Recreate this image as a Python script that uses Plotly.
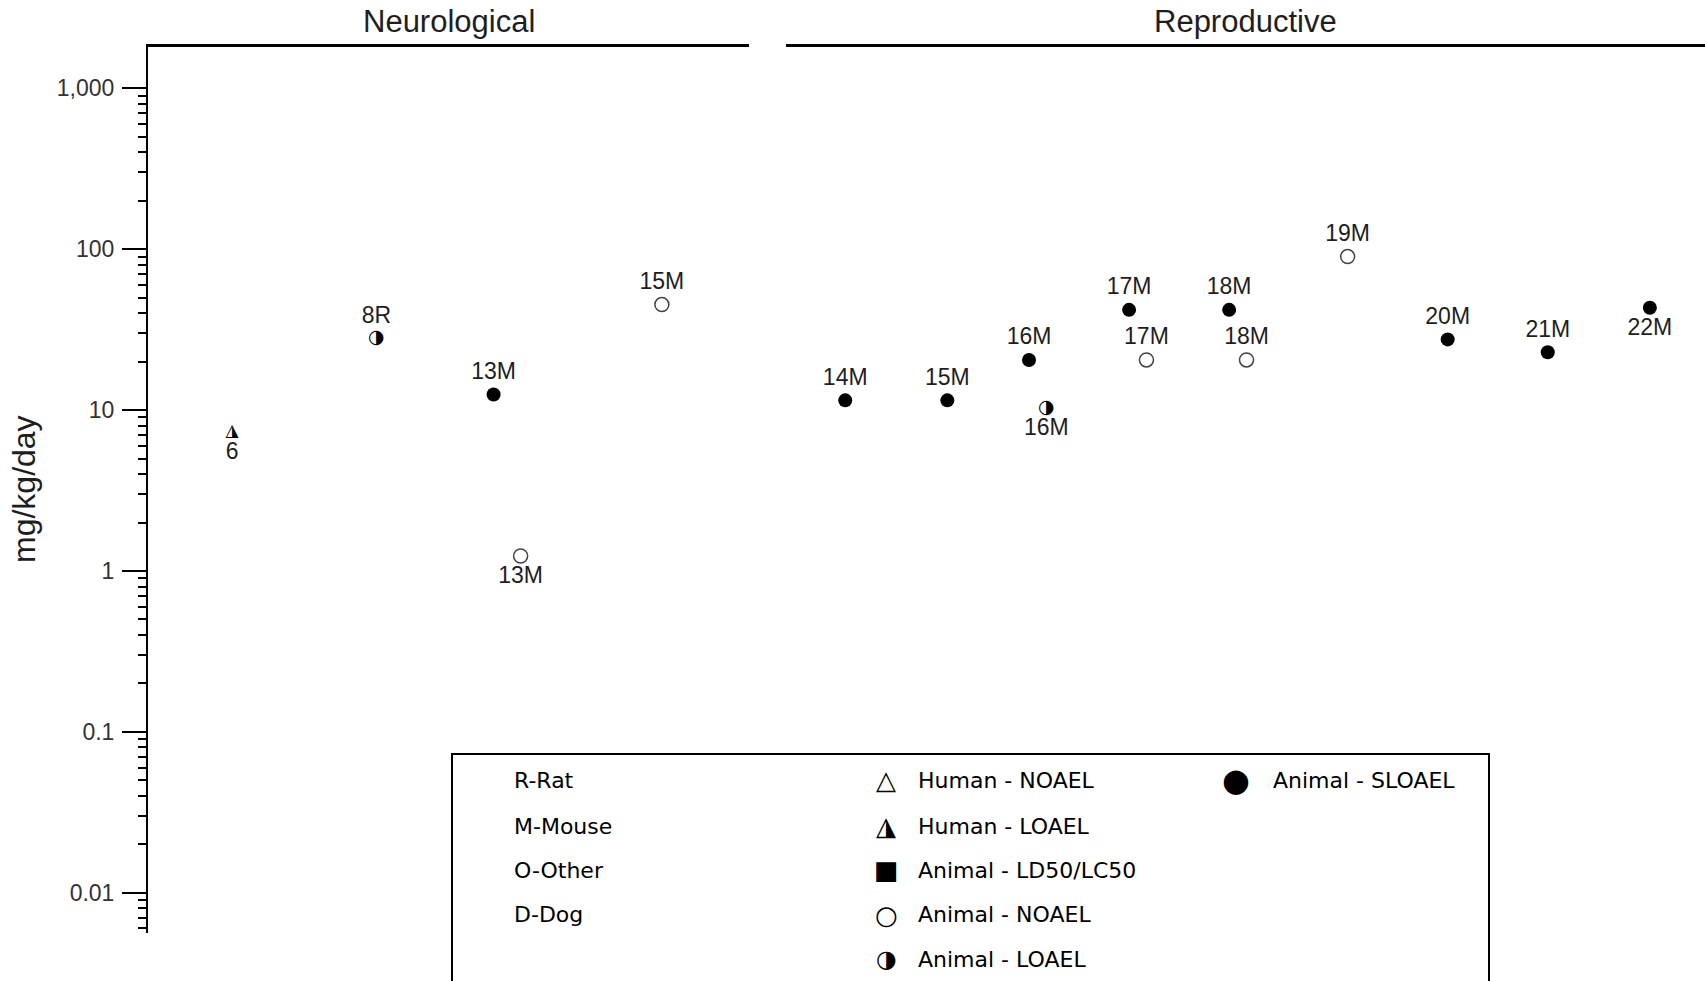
import plotly.graph_objects as go

# ---- data (mg/kg/day, log scale) ----
# x = column position inside each panel
neuro_x = [0.56, 1.52, 2.30, 2.48, 3.42]
neuro_dose = [7.3, 28.0, 12.5, 1.24, 45.3]
neuro_label = ["6", "8R", "13M", "13M", "15M"]
neuro_kind = ["human_loael", "animal_loael", "animal_sloael", "animal_noael", "animal_noael"]
neuro_side = ["below", "above", "above", "below", "above"]

repro_x = [0.58, 1.58, 2.38, 2.55, 3.36, 3.53, 4.34, 4.51, 5.50, 6.48, 7.46, 8.46]
repro_dose = [11.5, 11.5, 20.5, 10.3, 42.0, 20.5, 42.0, 20.5, 90.0, 27.5, 22.9, 43.3]
repro_label = ["14M", "15M", "16M", "16M", "17M", "17M", "18M", "18M", "19M", "20M", "21M", "22M"]
repro_kind = ["animal_sloael", "animal_sloael", "animal_sloael", "animal_loael",
              "animal_sloael", "animal_noael", "animal_sloael", "animal_noael",
              "animal_noael", "animal_sloael", "animal_sloael", "animal_sloael"]
repro_side = ["above", "above", "above", "below", "above", "above",
              "above", "above", "above", "above", "above", "below"]

panel_titles = ["Neurological", "Reproductive"]

y_tickvals = [0.01, 0.1, 1, 10, 100, 1000]
y_ticktext = ["0.01", "0.1", "1", "10", "100", "1,000"]
y_minorvals = [m * d for d in [0.001, 0.01, 0.1, 1, 10, 100, 1000] for m in range(2, 10)]

species_legend = ["R-Rat", "M-Mouse", "O-Other", "D-Dog"]
endpoint_symbols = ["\u25B3", "\u25EE", "\u25A0", "\u25CB", "\u25D1"]
endpoint_legend = ["Human - NOAEL", "Human - LOAEL", "Animal - LD50/LC50", "Animal - NOAEL", "Animal - LOAEL"]
severe_symbols = ["\u25CF"]
severe_legend = ["Animal - SLOAEL"]

TXT = "Liberation Sans, Arial, sans-serif"
LEG = "DejaVu Sans, sans-serif"

W, H = 1705, 981


def px(x):
    return x / W


def py(y):
    return 1 - y / H


fig = go.Figure()

# glyphs for the half-filled symbols (plotly has no half-filled markers)
glyphs = {"animal_loael": ("\u25D1", 19), "human_loael": ("\u25EE", 17)}


def add_points(xs, ys, labels, kinds, sides, xaxis, yaxis):
    for kind in ["animal_sloael", "animal_noael", "animal_loael", "human_loael"]:
        idx = [i for i, k in enumerate(kinds) if k == kind]
        if not idx:
            continue
        xx = [xs[i] for i in idx]
        yy = [ys[i] for i in idx]
        tx = [labels[i] for i in idx]
        tp = ["top center" if sides[i] == "above" else "bottom center" for i in idx]
        if kind == "animal_sloael":
            marker = dict(symbol="circle", size=14, color="black")
        elif kind == "animal_noael":
            marker = dict(symbol="circle-open", size=14, color="#444", line=dict(width=1.5))
        else:
            marker = dict(symbol="circle", size=14, color="rgba(0,0,0,0)")
        fig.add_trace(go.Scatter(
            x=xx, y=yy, mode="markers+text", text=tx, textposition=tp,
            textfont=dict(family=TXT, size=23, color="#1e1e1e"),
            marker=marker, xaxis=xaxis, yaxis=yaxis, hoverinfo="skip",
            showlegend=False, cliponaxis=False))
        if kind in glyphs:
            g, s = glyphs[kind]
            fig.add_trace(go.Scatter(
                x=xx, y=yy, mode="text", text=[g] * len(xx), textposition="middle center",
                textfont=dict(family=LEG, size=s, color="black"),
                xaxis=xaxis, yaxis=yaxis, hoverinfo="skip", showlegend=False, cliponaxis=False))


add_points(neuro_x, neuro_dose, neuro_label, neuro_kind, neuro_side, "x", "y")
add_points(repro_x, repro_dose, repro_label, repro_kind, repro_side, "x2", "y2")

ydom = [py(933), py(47.3)]
yrng = [-2.25, 3.255]
top_axis = dict(side="top", showline=True, linecolor="black", linewidth=2.5, ticks="",
                showticklabels=False, showgrid=False, zeroline=False, fixedrange=True)

fig.update_layout(
    width=W, height=H,
    margin=dict(l=0, r=0, t=0, b=0),
    plot_bgcolor="white", paper_bgcolor="white",
    showlegend=False,
    xaxis=dict(domain=[px(148), px(749)], range=[0, 4], anchor="y", **top_axis),
    xaxis2=dict(domain=[px(786), 1.0], range=[0, 9], anchor="y2", **top_axis),
    yaxis=dict(domain=ydom, type="log", range=yrng, anchor="x",
               showline=True, linecolor="black", linewidth=2,
               tickmode="array", tickvals=y_tickvals, ticktext=y_ticktext,
               ticks="outside", ticklen=24, tickwidth=2, tickcolor="black",
               ticklabelstandoff=3,
               tickfont=dict(family=TXT, size=23, color="#333"),
               minor=dict(tickmode="array", tickvals=y_minorvals, ticks="outside",
                          ticklen=8, tickwidth=2, tickcolor="black", showgrid=False),
               showgrid=False, zeroline=False),
    yaxis2=dict(domain=ydom, type="log", range=yrng, anchor="x2", matches="y",
                visible=False),
)

# panel titles
for i, t in enumerate(panel_titles):
    fig.add_annotation(text=t, xref="x domain" if i == 0 else "x2 domain", x=0.5,
                       yref="paper", y=py(22), yanchor="middle", showarrow=False,
                       font=dict(family=TXT, size=31, color="#1e1e1e"))

# y axis title
fig.add_annotation(text="mg/kg/day", textangle=-90, xref="paper", x=px(24),
                   yref="paper", y=py(489), xanchor="center", yanchor="middle", showarrow=False,
                   font=dict(family=TXT, size=32, color="#1e1e1e"))

# ---- legend box ----
fig.add_shape(type="rect", xref="paper", yref="paper",
              x0=px(452), x1=px(1489), y0=-0.1, y1=py(754),
              line=dict(color="black", width=2), fillcolor="white", layer="above")

row_y = [780, 826, 870, 914.5, 959]
leg_font = dict(family=LEG, size=22, color="black")
for r, name in enumerate(species_legend):
    fig.add_annotation(text=name, xref="paper", yref="paper", x=px(512), y=py(row_y[r]),
                       xanchor="left", yanchor="middle", showarrow=False, font=leg_font)
for r, (sym, name) in enumerate(zip(endpoint_symbols, endpoint_legend)):
    fig.add_annotation(text=sym, xref="paper", yref="paper", x=px(886), y=py(row_y[r]),
                       xanchor="center", yanchor="middle", showarrow=False,
                       font=dict(family=LEG, size=26 if r != 4 else 24, color="black"))
    fig.add_annotation(text=name, xref="paper", yref="paper", x=px(916), y=py(row_y[r]),
                       xanchor="left", yanchor="middle", showarrow=False, font=leg_font)
for r, (sym, name) in enumerate(zip(severe_symbols, severe_legend)):
    fig.add_annotation(text=sym, xref="paper", yref="paper", x=px(1236), y=py(row_y[r]),
                       xanchor="center", yanchor="middle", showarrow=False,
                       font=dict(family=LEG, size=32, color="black"))
    fig.add_annotation(text=name, xref="paper", yref="paper", x=px(1271), y=py(row_y[r]),
                       xanchor="left", yanchor="middle", showarrow=False, font=leg_font)

# drop the default body margin so the figure sits at the window's corner
fig.write_html("out.html", config={"displayModeBar": False},
               post_script="document.body.style.margin='0px';")
